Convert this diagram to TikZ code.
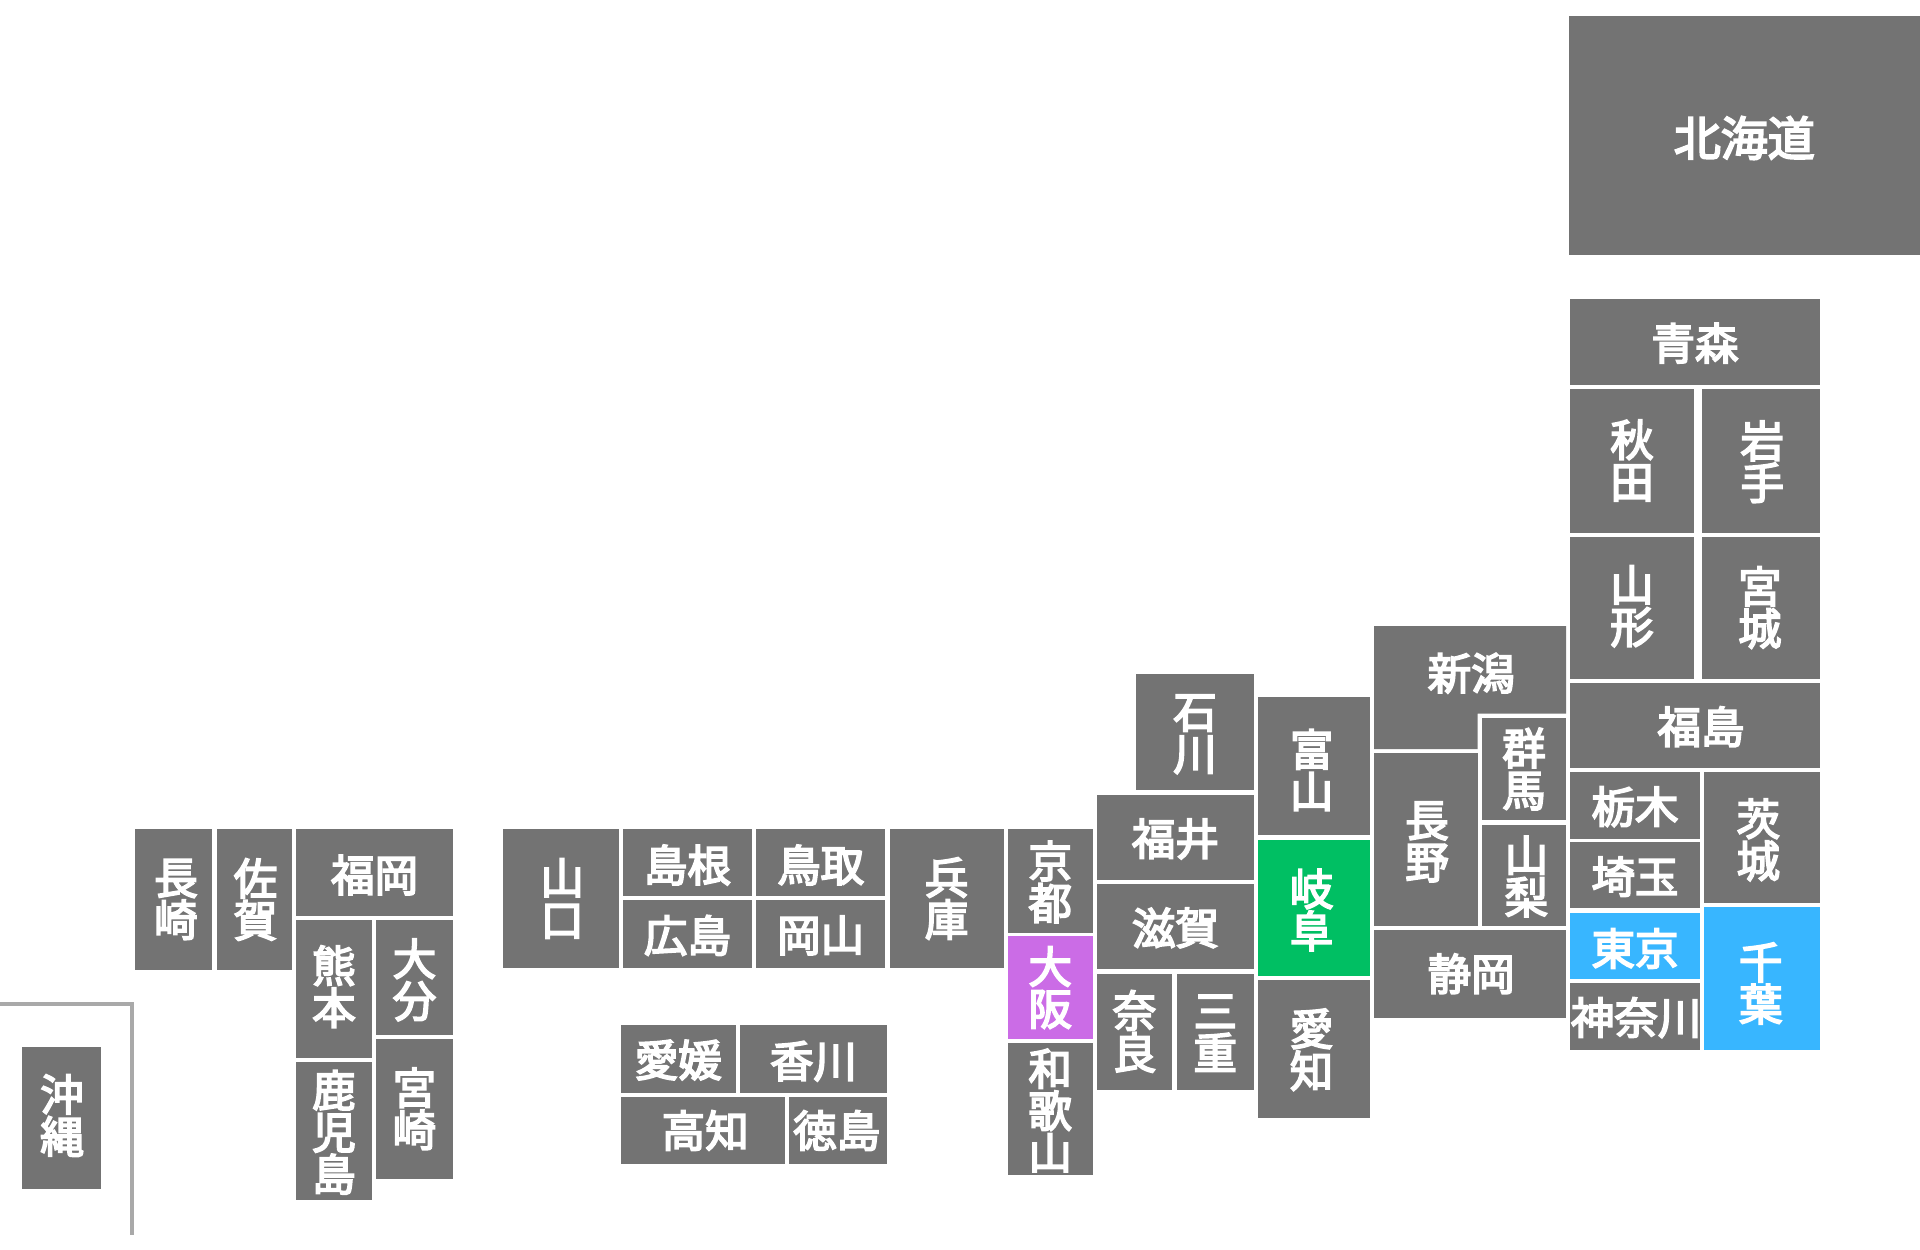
\documentclass[tikz,border=0pt]{standalone}
\usepackage{fontspec}
\newfontfamily\jpfont[FakeBold=4]{Noto Sans CJK JP}
\definecolor{prefgray}{HTML}{737373}
\definecolor{prefblue}{HTML}{38B6FF}
\definecolor{prefgreen}{HTML}{00BF63}
\definecolor{prefpurple}{HTML}{CB6CE6}
\definecolor{linegray}{HTML}{A9A9A9}
\tikzset{
  pref/.style={fill=prefgray, inner sep=0pt},
  preftext/.style={text=white, inner sep=0pt, align=center,
    font=\jpfont\fontsize{43.5}{42}\selectfont}
}

\begin{document}
\begin{tikzpicture}[x=1pt,y=-1pt]
    \useasboundingbox (0,0) rectangle (1920,1250);

    % Hokkaido and Tohoku
    \node[pref, minimum width=351.3pt, minimum height=239pt] (hokkaido) at (1744.3,135.5) {};
      \node[preftext, font=\jpfont\fontsize{47}{47}\selectfont] (hokkaidotext) at (1744.3,138) {北海道};
    \node[pref, minimum width=250pt, minimum height=86pt] (aomori) at (1695,342) {};
      \node[preftext] (aomoritext) at (1695,343.2) {青森};
    \node[pref, minimum width=124pt, minimum height=144pt] (akita) at (1632,460.5) {};
      \node[preftext] (akitatext) at (1632,460.5) {秋\\田};
    \node[pref, minimum width=118pt, minimum height=144pt] (iwate) at (1761,460.5) {};
      \node[preftext] (iwatetext) at (1762.2,461.7) {岩\\手};
    \node[pref, minimum width=124pt, minimum height=142pt] (yamagata) at (1632,607.5) {};
      \node[preftext] (yamagatatext) at (1632,606.3) {山\\形};
    \node[pref, minimum width=118pt, minimum height=142pt] (miyagi) at (1761,607.5) {};
      \node[preftext] (miyagitext) at (1759.8,607.5) {宮\\城};
    \node[pref, minimum width=250pt, minimum height=85.6pt] (fukushima) at (1695,725.5) {};
      \node[preftext] (fukushimatext) at (1701,726.7) {福島};

    % Kanto
    \node[pref, minimum width=130pt, minimum height=66.4pt] (tochigi) at (1635,805.5) {};
      \node[preftext] (tochigitext) at (1635,806.7) {栃木};
    \node[pref, minimum width=130pt, minimum height=66pt] (saitama) at (1635,875.4) {};
      \node[preftext] (saitamatext) at (1635,876.6) {埼玉};
    \node[pref, fill=prefblue, minimum width=130pt, minimum height=66pt] (tokyo) at (1635,946) {};
      \node[preftext] (tokyotext) at (1635,948.4) {東京};
    \node[pref, minimum width=130pt, minimum height=67.3pt] (kanagawa) at (1635,1016.4) {};
      \node[preftext] (kanagawatext) at (1636.2,1017.6) {神奈川};
    \node[pref, minimum width=116pt, minimum height=130.4pt] (ibaraki) at (1762,837.5) {};
      \node[preftext] (ibarakitext) at (1758.3,839.9) {茨\\城};
    \node[pref, fill=prefblue, minimum width=116pt, minimum height=143pt] (chiba) at (1762,978.5) {};
      \node[preftext] (chibatext) at (1760.8,983.4) {千\\葉};

    % Chubu
    \fill[prefgray] (1374,626) -- (1566,626) -- (1566,713.7) -- (1477.5,713.7) -- (1477.5,749) -- (1374,749) -- cycle;
      \node[preftext] (niigatatext) at (1471.2,673.2) {新潟};
    \node[pref, minimum width=84pt, minimum height=102pt] (gunma) at (1524,769) {};
      \node[preftext] (gunmatext) at (1524,769) {群\\馬};
    \node[pref, minimum width=84pt, minimum height=101.3pt] (yamanashi) at (1524,875.3) {};
      \node[preftext] (yamanashitext) at (1526.4,876.5) {山\\梨};
    \node[pref, minimum width=103.5pt, minimum height=173pt] (nagano) at (1425.8,839.5) {};
      \node[preftext] (naganotext) at (1427,841.9) {長\\野};
    \node[pref, minimum width=192pt, minimum height=87.7pt] (shizuoka) at (1470,973.8) {};
      \node[preftext] (shizuokatext) at (1471.2,973.8) {静岡};
    \node[pref, minimum width=118pt, minimum height=116.5pt] (ishikawa) at (1195,732.15) {};
      \node[preftext] (ishikawatext) at (1195,734.3) {石\\川};
    \node[pref, minimum width=157.3pt, minimum height=85.7pt] (fukui) at (1175.4,837.45) {};
      \node[preftext] (fukuitext) at (1175.4,838.9) {福井};
    \node[pref, minimum width=112pt, minimum height=138.3pt] (toyama) at (1314,766.15) {};
      \node[preftext] (toyamatext) at (1311.6,770.1) {富\\山};
    \node[pref, fill=prefgreen, minimum width=112pt, minimum height=136.9pt] (gifu) at (1314,907.95) {};
      \node[preftext] (gifutext) at (1311.6,909.9) {岐\\阜};
    \node[pref, minimum width=112pt, minimum height=137.9pt] (aichi) at (1314,1048.95) {};
      \node[preftext] (aichitext) at (1311.6,1049.7) {愛\\知};

    % Kinki
    \node[pref, minimum width=157.3pt, minimum height=85.6pt] (shiga) at (1175.4,926.6) {};
      \node[preftext] (shigatext) at (1175.4,927.9) {滋賀};
    \node[pref, minimum width=75.6pt, minimum height=116.2pt] (nara) at (1134.5,1031.7) {};
      \node[preftext] (naratext) at (1134.5,1031.4) {奈\\良};
    \node[pref, minimum width=77.3pt, minimum height=116.2pt] (mie) at (1215.3,1031.7) {};
      \node[preftext] (mietext) at (1215.3,1033.2) {三\\重};
    \node[pref, minimum width=85pt, minimum height=103.6pt] (kyoto) at (1050.2,880.8) {};
      \node[preftext] (kyototext) at (1050.2,882) {京\\都};
    \node[pref, fill=prefpurple, minimum width=85pt, minimum height=102.9pt] (osaka) at (1050.2,987.85) {};
      \node[preftext] (osakatext) at (1050.2,987.6) {大\\阪};
    \node[pref, minimum width=85pt, minimum height=132.4pt] (wakayama) at (1050.2,1109.2) {};
      \node[preftext] (wakayamatext) at (1050.2,1110.5) {和\\歌\\山};
    \node[pref, minimum width=114.2pt, minimum height=139pt] (hyogo) at (946.6,898.5) {};
      \node[preftext] (hyogotext) at (946.6,898.5) {兵\\庫};

    % Chugoku and Shikoku
    \node[pref, minimum width=129.5pt, minimum height=67pt] (tottori) at (820.7,862.5) {};
      \node[preftext] (tottoritext) at (820.7,865) {鳥取};
    \node[pref, minimum width=129.5pt, minimum height=67.5pt] (okayama) at (820.7,934.2) {};
      \node[preftext] (okayamatext) at (820.7,935.4) {岡山};
    \node[pref, minimum width=129pt, minimum height=67pt] (shimane) at (687.5,862.5) {};
      \node[preftext] (shimanetext) at (687.5,865) {島根};
    \node[pref, minimum width=129pt, minimum height=67.5pt] (hiroshima) at (687.5,934.2) {};
      \node[preftext] (hiroshimatext) at (687.5,935.4) {広島};
    \node[pref, minimum width=116pt, minimum height=139pt] (yamaguchi) at (561,898.5) {};
      \node[preftext] (yamaguchitext) at (562.2,898.5) {山\\口};
    \node[pref, minimum width=114.7pt, minimum height=67.7pt] (ehime) at (678.3,1058.8) {};
      \node[preftext] (ehimetext) at (678.3,1060) {愛媛};
    \node[pref, minimum width=147pt, minimum height=67.7pt] (kagawa) at (813.5,1058.8) {};
      \node[preftext] (kagawatext) at (813.5,1061.2) {香川};
    \node[pref, minimum width=163.7pt, minimum height=67pt] (kochi) at (702.8,1130.5) {};
      \node[preftext] (kochitext) at (705.2,1130.5) {高知};
    \node[pref, minimum width=98pt, minimum height=67pt] (tokushima) at (838,1130.5) {};
      \node[preftext] (tokushimatext) at (836.8,1130.5) {徳島};

    % Kyushu and Okinawa
    \node[pref, minimum width=77pt, minimum height=141pt] (nagasaki) at (173.5,899.5) {};
      \node[preftext] (nagasakitext) at (176,899.5) {長\\崎};
    \node[pref, minimum width=75.5pt, minimum height=141pt] (saga) at (254.3,899.5) {};
      \node[preftext] (sagatext) at (255.5,899.5) {佐\\賀};
    \node[pref, minimum width=157pt, minimum height=87pt] (fukuoka) at (374.5,872.5) {};
      \node[preftext] (fukuokatext) at (374.5,875) {福岡};
    \node[pref, minimum width=76pt, minimum height=138pt] (kumamoto) at (334,989) {};
      \node[preftext] (kumamototext) at (334,986.6) {熊\\本};
    \node[pref, minimum width=77pt, minimum height=115pt] (oita) at (414.5,977.5) {};
      \node[preftext] (oitatext) at (414.5,979.9) {大\\分};
    \node[pref, minimum width=77pt, minimum height=139.7pt] (miyazaki) at (414.5,1108.8) {};
      \node[preftext] (miyazakitext) at (414.5,1108.8) {宮\\崎};
    \node[pref, minimum width=76pt, minimum height=138pt] (kagoshima) at (334,1131) {};
      \node[preftext] (kagoshimatext) at (334,1132.2) {鹿\\児\\島};
    \node[pref, minimum width=79pt, minimum height=141.4pt] (okinawa) at (61.5,1117.8) {};
      \node[preftext] (okinawatext) at (62,1115.4) {沖\\縄};
    \draw[linegray, line width=4pt] (0,1003.7) -- (132.3,1003.7) -- (132.3,1235);
\end{tikzpicture}
\end{document}
